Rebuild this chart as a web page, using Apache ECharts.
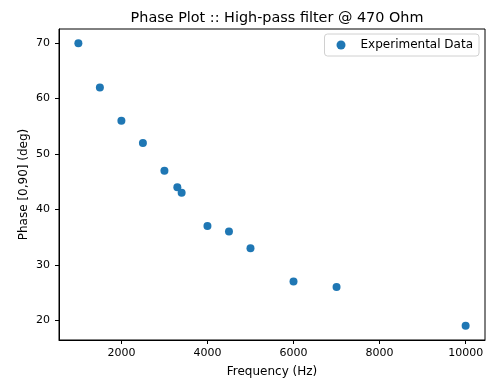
<!DOCTYPE html>
<html><head><meta charset="utf-8">
<script src="https://cdn.jsdelivr.net/npm/echarts@6/dist/echarts.min.js"></script>
<style>html,body{margin:0;padding:0;background:#fff}#c{width:491px;height:383px}</style>
</head><body><div id="c"></div>
<script>
const frequency = [1000, 1500, 2000, 2500, 3000, 3300, 3400, 4000, 4500, 5000, 6000, 7000, 10000];
const phase = [70, 62, 56, 52, 47, 44, 43, 37, 36, 33, 27, 26, 19];
const xTicks = [2000, 4000, 6000, 8000, 10000];
const yTicks = [20, 30, 40, 50, 60, 70];

const font = 'DejaVu Sans';
const chart = echarts.init(document.getElementById('c'), null, {renderer: 'canvas'});
chart.setOption({
  animation: false,
  title: {
    text: 'Phase Plot :: High-pass filter @ 470 Ohm',
    left: 272, top: 6, textAlign: 'center',
    textStyle: {fontFamily: font, fontSize: 14.4, fontWeight: 'normal', color: '#000'}
  },
  legend: {
    right: 12, top: 34,
    padding: [5, 6, 5, 12],
    borderColor: '#d0d0d0', borderWidth: 1, borderRadius: 3,
    backgroundColor: '#fff',
    itemWidth: 9, itemHeight: 9, itemGap: 10,
    textStyle: {fontFamily: font, fontSize: 12, color: '#000', padding: [0, 0, 0, 10]},
    data: [{name: 'Experimental Data', icon: 'circle', itemStyle: {opacity: 1}}]
  },
  grid: {left: 59, right: 6, top: 29, bottom: 38, show: true, borderColor: '#000', borderWidth: 1},
  xAxis: {
    type: 'value', min: 550, max: 10450,
    name: 'Frequency (Hz)', nameLocation: 'middle', nameGap: 26, nameMoveOverlap: false,
    nameTextStyle: {fontFamily: font, fontSize: 12, color: '#000'},
    axisLine: {show: true, lineStyle: {color: '#000'}},
    axisTick: {show: true, length: 4, inside: false, customValues: xTicks, lineStyle: {color: '#000'}},
    axisLabel: {customValues: xTicks, formatter: v => String(v), fontFamily: font, fontSize: 11, color: '#000', margin: 8},
    splitLine: {show: false}
  },
  yAxis: {
    type: 'value', min: 16.45, max: 72.55,
    name: 'Phase [0,90] (deg)', nameLocation: 'middle', nameGap: 29, nameRotate: 90, nameMoveOverlap: false,
    nameTextStyle: {fontFamily: font, fontSize: 12, color: '#000'},
    axisLine: {show: true, lineStyle: {color: '#000'}},
    axisTick: {show: true, length: 4, inside: false, customValues: yTicks, lineStyle: {color: '#000'}},
    axisLabel: {customValues: yTicks, formatter: v => String(v), fontFamily: font, fontSize: 11, color: '#000', margin: 9},
    splitLine: {show: false}
  },
  series: [{
    name: 'Experimental Data', type: 'scatter', symbol: 'circle', symbolSize: 8,
    itemStyle: {color: '#1f77b4', opacity: 1},
    data: frequency.map((f, i) => [f, phase[i]])
  }]
});
</script></body></html>
